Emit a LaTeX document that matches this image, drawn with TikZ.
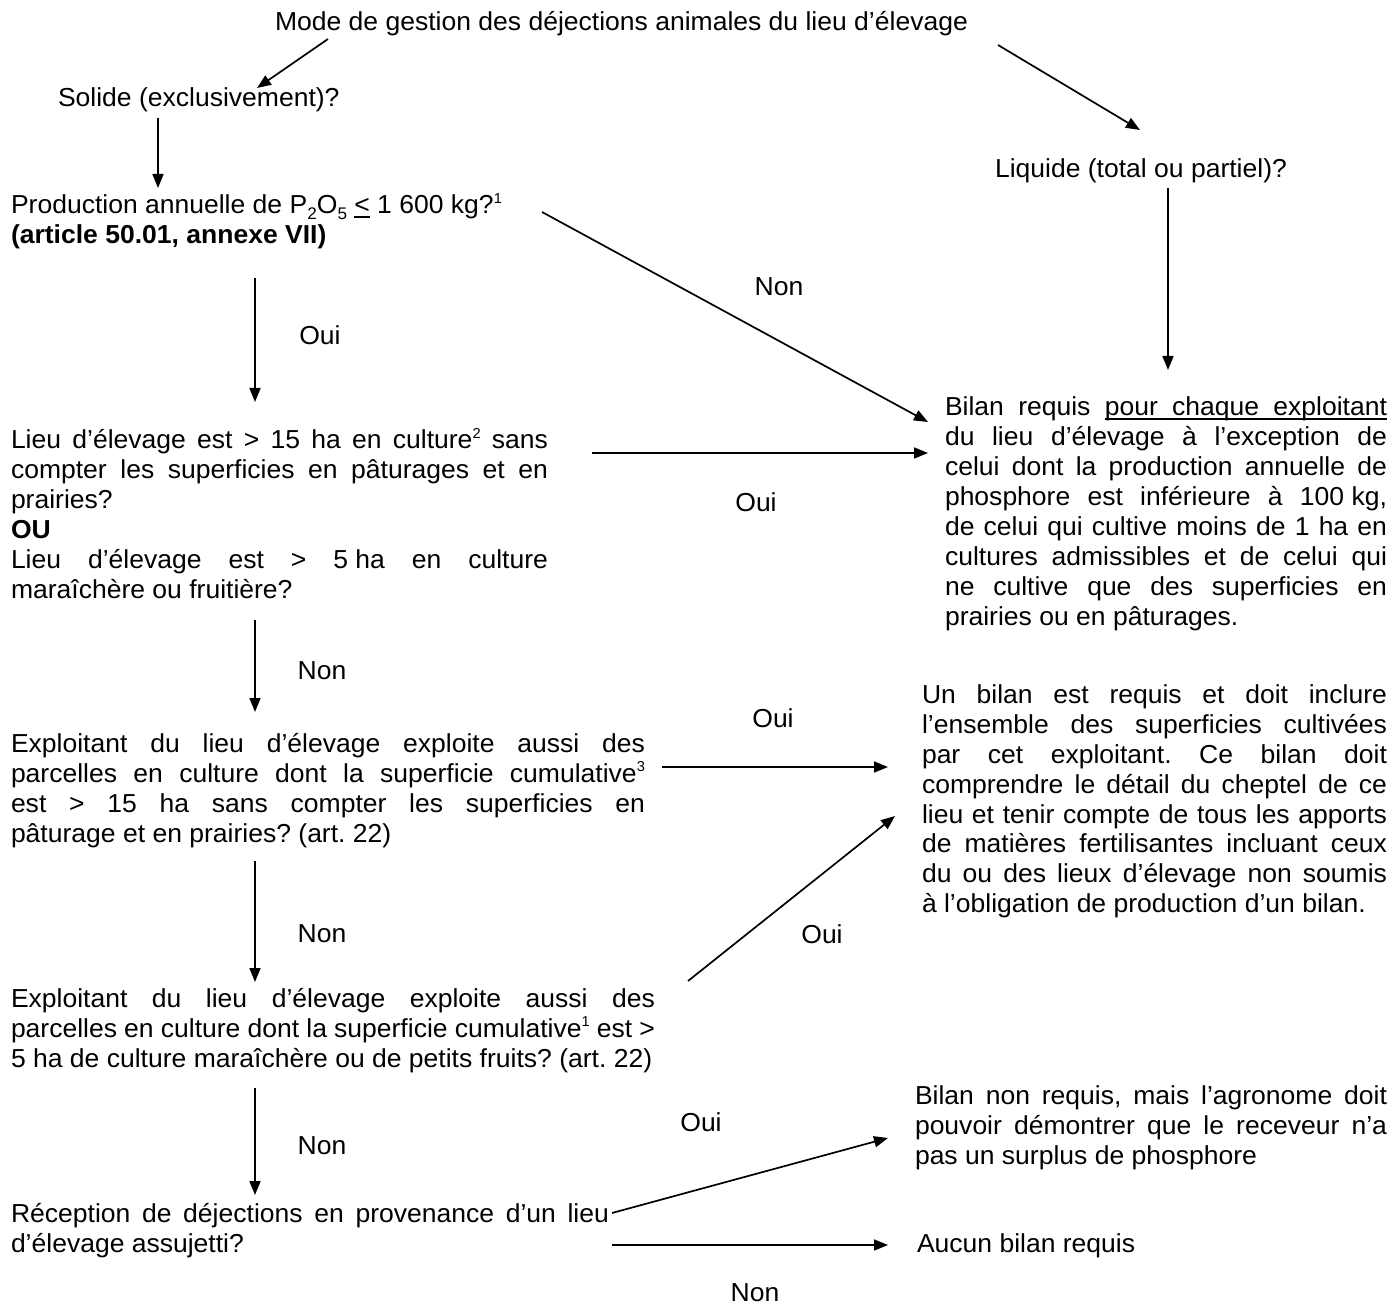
\documentclass[tikz,border=0pt]{standalone}
\usepackage{fontspec}
\setmainfont{Liberation Sans}[FakeStretch=1.02]
\usetikzlibrary{arrows.meta}
\newcommand\ulw[1]{\leavevmode\setbox0\hbox{#1}\rlap{\vrule height -1.2pt depth 1.9pt width \wd0}\box0\relax}
\newcommand\ulsp{\leaders\hrule height -1.2pt depth 1.9pt\hskip\fontdimen2\font plus\fontdimen3\font minus\fontdimen4\font\relax}
\newcommand\sups[1]{\raisebox{0.42em}{\fontsize{7.2}{8}\selectfont #1}}
\newcommand\subs[1]{\raisebox{-0.22em}{\fontsize{8.4}{9}\selectfont #1}}
\begin{document}
\frenchspacing
\begin{tikzpicture}[x=0.5pt,y=-0.5pt,
  every node/.style={inner sep=0pt, outer sep=0pt, font=\fontsize{13}{15}\selectfont\frenchspacing},
  txt/.style={anchor=base west, align=left},
  jblock/.style={anchor=base west, text width=#1, align=justify},
  lbl/.style={anchor=center},
  arr/.style={-{Triangle[length=7pt,width=5.5pt]}, line width=0.85pt}]
\useasboundingbox (0,0) rectangle (1394,1305);

% texts
\node[txt] (mode) at (275,31) {Mode de gestion des déjections animales du lieu d’élevage};
\node[txt] (solide) at (58,107) {Solide (exclusivement)?};
\node[txt] (liquide) at (995,178) {Liquide (total ou partiel)?};
\node[txt] (prod) at (11,214) {Production annuelle de P\subs{2}O\subs{5} \ulw{<} 1 600 kg?\sups{1}};
\node[txt] (art) at (11,244) {\textbf{(article 50.01, annexe VII)}};
\node[jblock=268.5pt] (lieu) at (11,449) {Lieu d’élevage est > 15 ha en culture\sups{2} sans\linebreak
compter les superficies en pâturages et en\linebreak
prairies?\\
\textbf{OU}\\
Lieu d’élevage est > \mbox{5 ha} en culture\linebreak
maraîchère ou fruitière?};
\node[jblock=221pt] (bilan) at (945,416) {Bilan requis \ulw{pour}\ulsp\ulw{chaque}\ulsp\ulw{exploitant}\linebreak
du lieu d’élevage à l’exception de\linebreak
celui dont la production annuelle de\linebreak
phosphore est inférieure à \mbox{100 kg},\linebreak
de celui qui cultive moins de 1 ha en\linebreak
cultures admissibles et de celui qui\linebreak
ne cultive que des superficies en\linebreak
prairies ou en pâturages.};
\node[jblock=317pt] (expl1) at (11,752) {Exploitant du lieu d’élevage exploite aussi des\linebreak
parcelles en culture dont la superficie cumulative\sups{3}\linebreak
est > 15 ha sans compter les superficies en\linebreak
pâturage et en prairies? (art. 22)};
\node[jblock=232.5pt] (unbilan) at (922,703) {Un bilan est requis et doit inclure\linebreak
l’ensemble des superficies cultivées\linebreak
par cet exploitant. Ce bilan doit\linebreak
comprendre le détail du cheptel de ce\linebreak
lieu et tenir compte de tous les apports\linebreak
de matières fertilisantes incluant ceux\linebreak
du ou des lieux d’élevage non soumis\linebreak
à l’obligation de production d’un bilan.};
\node[jblock=322pt] (expl2) at (11,1007) {Exploitant du lieu d’élevage exploite aussi des\linebreak
parcelles en culture dont la superficie cumulative\sups{1} est >\linebreak
5 ha de culture maraîchère ou de petits fruits? (art. 22)};
\node[jblock=236pt] (nonreq) at (915,1104) {Bilan non requis, mais l’agronome doit\linebreak
pouvoir démontrer que le receveur n’a\linebreak
pas un surplus de phosphore};
\node[jblock=299pt] (recep) at (11,1222) {Réception de déjections en provenance d’un lieu\linebreak
d’élevage assujetti?};
\node[txt] (aucun) at (917,1252) {Aucun bilan requis};

% labels
\node[lbl] (l1) at (779,287) {Non};
\node[lbl] (l2) at (320,335) {Oui};
\node[lbl] (l3) at (756,502) {Oui};
\node[lbl] (l4) at (322,671) {Non};
\node[lbl] (l5) at (773,718) {Oui};
\node[lbl] (l6) at (322,934) {Non};
\node[lbl] (l7) at (822,934) {Oui};
\node[lbl] (l8) at (322,1146) {Non};
\node[lbl] (l9) at (701,1122) {Oui};
\node[lbl] (l10) at (755,1293) {Non};

% connector end points
\coordinate (a1s) at (328,39);   \coordinate (a1e) at (257,88);
\coordinate (a2s) at (998,45);   \coordinate (a2e) at (1140,130);
\coordinate (a3s) at (158,118);  \coordinate (a3e) at (158,188);
\coordinate (a4s) at (1168,188); \coordinate (a4e) at (1168,370);
\coordinate (a5s) at (542,212);  \coordinate (a5e) at (928,422);
\coordinate (a6s) at (255,278);  \coordinate (a6e) at (255,402);
\coordinate (a7s) at (592,453);  \coordinate (a7e) at (928,453);
\coordinate (a8s) at (255,620);  \coordinate (a8e) at (255,712);
\coordinate (a9s) at (662,767);  \coordinate (a9e) at (888,767);
\coordinate (a10s) at (255,861); \coordinate (a10e) at (255,982);
\coordinate (a11s) at (688,981); \coordinate (a11e) at (895,816);
\coordinate (a12s) at (255,1088);\coordinate (a12e) at (255,1195);
\coordinate (a13s) at (612,1213);\coordinate (a13e) at (888,1138);
\coordinate (a14s) at (612,1245);\coordinate (a14e) at (888,1245);

\draw[arr] (a1s) -- (a1e);
\draw[arr] (a2s) -- (a2e);
\draw[arr] (a3s) -- (a3e);
\draw[arr] (a4s) -- (a4e);
\draw[arr] (a5s) -- (a5e);
\draw[arr] (a6s) -- (a6e);
\draw[arr] (a7s) -- (a7e);
\draw[arr] (a8s) -- (a8e);
\draw[arr] (a9s) -- (a9e);
\draw[arr] (a10s) -- (a10e);
\draw[arr] (a11s) -- (a11e);
\draw[arr] (a12s) -- (a12e);
\draw[arr] (a13s) -- (a13e);
\draw[arr] (a14s) -- (a14e);
\end{tikzpicture}
\end{document}
